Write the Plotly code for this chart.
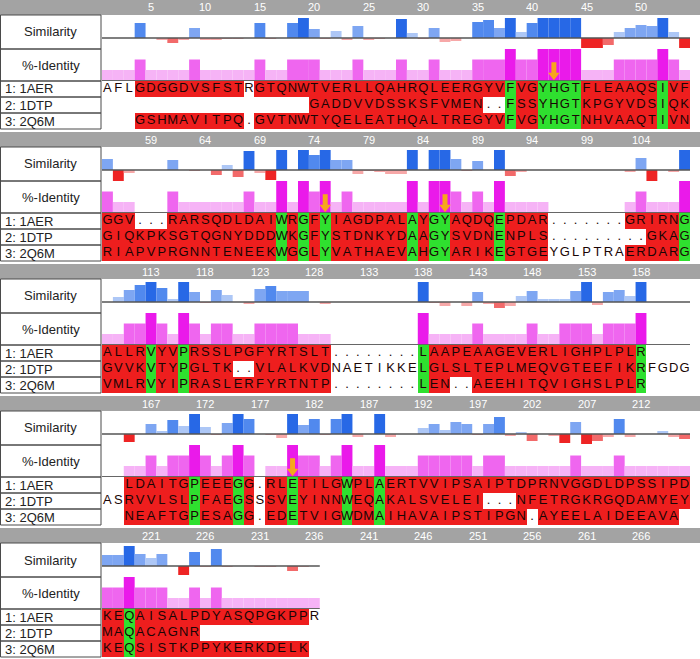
import plotly.graph_objects as go

W, H = 700, 659

# ---------------- data ----------------
block_starts = [1, 55, 109, 163, 217]
seq_names = ["1: 1AER", "2: 1DTP", "3: 2Q6M"]

# aligned sequences per block ('-' = gap, ' ' = nothing)
seq_1AER = [
    "AFLGDGGDVSFSTRGTQNWTVERLLQAHRQLEERGYVFVGYHGTFLEAAQSIVF",
    "GGV---RARSQDLDAIWRGFYIAGDPALAYGYAQDQEPDAR-------GRIRNG",
    "ALLRVYVPRSSLPGFYRTSLT--------LAAPEAAGEVERLIGHPLPLR    ",
    "  LDAITGPEEEGG-RLETILGWPLAERTVVIPSAIPTDPRNVGGDLDPSSIPD",
    "KEQAISALPDYASQPGKPPR",
]
seq_1DTP = [
    "                   GADDVVDSSKSFVMEN--FSSYHGTKPGYVDSIQK",
    "GIQKPKSGTQGNYDDDWKGFYSTDNKYDAAGYSVDNENPLS---------GKAG",
    "GVVKVTYPGLTK--VLALKVDNAETIKKELGLSLTEPLMEQVGTEEFIKRFGDG",
    "ASRVVLSLPFAEGSSSVEYINNWEQAKALSVELEI---NFETRGKRGQDAMYEY",
    "MAQACAGNR",
]
seq_2Q6M = [
    "   GSHMAVITPQ-GVTNWTYQELEATHQALTREGYVFVGYHGTNHVAAQTIVN",
    "RIAPVPRGNNTENEEKWGGLYVATHAEVAHGYARIKEGTGEYGLPTRAERDARG",
    "VMLRVYIPRASLERFYRTNTP--------LEN--AEEHITQVIGHSLPLR    ",
    "  NEAFTGPESAGG-EDETVIGWDMAIHAVAIPSTIPGN-AYEELAIDEEAVA ",
    "KEQSISTKPPYKERKDELK",
]

# residue shading: r = red (aligned), g = green (conserved), w = no shading
cls_1AER = [
    "www" "rrrrrrrrrr" "w" "rrrrrrrrr" "rrrrrrrrrrrrrr" "g" "rr" "gggg" "rrrrrrr" "g" "rr",
    "rrr" "www" "rrrrrrrrrr" "grgrg" "rrrrrrr" "grggrrrrg" "rrrr" "wwwwwww" "rrrrr" "g",
    "rrrr" "g" "rr" "g" "rrrrrrrrrrrrr" "wwwwwwww" "g" "rrrrrrrrrrrrrrrrrrr" "g" "wwww",
    "ww" "rrrrrr" "g" "rrr" "g" "r" "w" "rr" "g" "rrrr" "g" "rr" "g" "rrrrrrrrrrrrrrrrrrrrrrrrrrrr",
    "rr" "g" "rrrrrrrrrrrrrrrr" "w",
]
cls_1DTP = [
    "wwwwwwwwwwwwwwwwwww" "rrrrrrrrrrrrrrrr" "ww" "g" "rr" "gggg" "rrrrrrr" "g" "rr",
    "rrrrrrrrrrrrrrrr" "grgrg" "rrrrrrr" "grgg" "rrrr" "g" "rrrr" "wwwwwwwww" "rrr" "g",
    "rrrr" "g" "rr" "g" "rrrr" "ww" "rrrrrrr" "wwwwwwww" "g" "rrrrrrrrrrrrrrrrrrr" "g" "wwww",
    "ww" "rrrrrr" "g" "rrr" "g" "r" "w" "rr" "g" "rrrr" "g" "rr" "g" "rrrrrrrrr" "www" "rrrrrrrrrrrrrrrr",
    "rr" "g" "rrrrrr",
]
cls_2Q6M = [
    "www" "rrrrrrrrrr" "w" "rrrrrrrrr" "rrrrrrrrrrrrrr" "g" "rr" "gggg" "rrrrrrr" "g" "rr",
    "rrrrrrrrrrrrrrrr" "grgrg" "rrrrrrr" "grgg" "rrrr" "g" "rrrr" "wwwwwww" "rrrrr" "g",
    "rrrr" "g" "rr" "g" "rrrrrrrrrrrrr" "wwwwwwww" "g" "rr" "ww" "rrrrrrrrrrrrrrr" "g" "wwww",
    "ww" "rrrrrr" "g" "rrr" "g" "r" "w" "rr" "g" "rrrr" "g" "rr" "g" "rrrrrrrrrrrrr" "w" "rrrrrrrrrrrrr" "w",
    "rr" "g" "rrrrrrrrrrrrrrrr",
]

tick_labels = [
    [5, 10, 15, 20, 25, 30, 35, 40, 45, 50],
    [59, 64, 69, 74, 79, 84, 89, 94, 99, 104],
    [113, 118, 123, 128, 133, 138, 143, 148, 153, 158],
    [167, 172, 177, 182, 187, 192, 197, 202, 207, 212],
    [221, 226, 231, 236, 241, 246, 251, 256, 261, 266],
]

# similarity score per column (positive = blue up, negative = red down)
similarity = [
    [0, 0, 0, 15, 0, -2, -5, -2, 10, -2, -2, -1, -1, 0, 15, -1, 0, 15, 20, 9,
     -1, 7, -2, 12, -2, -1, 0, 19, 5, -1, 10, -4, -3, 0, 16, 18, 10, 20, 6, 15,
     20, 20, 20, 20, -10, -10, -7, 6, 10, 13, 12, 20, 6, -10],
    [11, -11, -3, 0, 0, 0, 10, 0, -1, 0, -5, 5, -7, 19, -3, -10, 20, 0, 20, 15,
     20, 10, 10, -4, -1, -2, -4, -4, 20, 0, 20, 20, 11, -1, 9, 0, 20, -6, -2, 0,
     0, 0, 0, 0, 0, 0, 0, 0, -2, 12, -11, 0, -2, 20],
    [0, 5, 12, 17, 20, 14, 3, 20, 10, -1, 12, 7, 0, -2, 13, 16, 11, 11, 11, 0,
     -2, 0, 0, 0, 0, 0, 0, 0, 0, 20, -1, -4, 0, -4, 10, -2, -6, -4, 6, 11,
     3, 3, 3, 11, 20, -3, 10, 12, 6, 20, 0, 0, 0, 0],
    [0, 0, -8, 0, 10, 3, 14, 8, 20, 7, -1, 11, 20, 15, 0, -1, -4, 20, 9, 15,
     -1, 15, 20, -3, 0, 20, -3, 0, 0, 6, 10, 4, 12, 10, -1, 10, 17, -2, 2, -7,
     0, -2, -9, 12, -10, -7, -3, 15, -3, 0, 0, 3, -3, -5],
    [11, 11, 20, 12, 8, 12, 0, -9, 14, -1, 17, -1, 0, 0, -1, -1, 0, -5, -1, 0],
]

# %-identity: number of sequences (of 3) identical to 1AER at each column
identity_count = [
    [1, 1, 1, 2, 1, 1, 1, 1, 2, 1, 1, 1, 1, 1, 2, 1, 1, 2, 2, 2,
     1, 1, 1, 2, 1, 1, 1, 2, 1, 1, 2, 1, 1, 1, 2, 2, 2, 3, 2, 2,
     3, 3, 3, 3, 1, 1, 1, 2, 2, 2, 2, 3, 2, 1],
    [2, 1, 1, 0, 0, 0, 2, 1, 1, 1, 1, 1, 1, 2, 1, 1, 3, 1, 3, 2,
     3, 1, 2, 1, 1, 1, 1, 1, 3, 1, 3, 3, 2, 1, 2, 1, 3, 1, 1, 1,
     1, 0, 0, 0, 0, 0, 0, 0, 1, 2, 1, 1, 1, 3],
    [1, 1, 2, 2, 3, 2, 1, 3, 2, 1, 2, 2, 1, 1, 2, 2, 2, 2, 1, 1,
     1, 0, 0, 0, 0, 0, 0, 0, 0, 3, 1, 1, 1, 1, 2, 1, 1, 1, 1, 2,
     1, 1, 2, 2, 2, 1, 2, 2, 2, 3, 0, 0, 0, 0],
    [0, 0, 1, 1, 2, 1, 2, 2, 3, 2, 1, 2, 3, 2, 0, 1, 1, 3, 2, 2,
     1, 2, 3, 1, 1, 3, 1, 1, 1, 2, 2, 2, 2, 2, 1, 2, 2, 1, 1, 1,
     1, 1, 1, 2, 1, 1, 1, 2, 1, 1, 1, 1, 1, 1],
    [2, 2, 3, 2, 2, 2, 1, 1, 2, 1, 2, 1, 1, 1, 1, 1, 1, 1, 1, 1],
]

arrow_cols = [42, 75, 86, 180]

# ---------------- styling ----------------
FONT = "Liberation Sans, Arial, sans-serif"
RED, GREEN = "#ee1e1e", "#2fe02f"
GREY_BAR = "#a3a3a3"
BORDER = "#4a4a4a"
ARROW = "#f7a61c"
IDENT_COLORS = {1: "#f6b3f6", 2: "#ef66ef", 3: "#ea1aea"}


def sim_color(v):
    if v >= 19:
        return "#2768e6"
    if v >= 14:
        return "#5189ee"
    if v >= 9:
        return "#7ea6f2"
    if v > 0:
        return "#adc7f6"
    if v <= -8:
        return "#ee2424"
    if v <= -5:
        return "#f26a6a"
    return "#f7a8a8"


BLOCK_STEP = 132
ROW_GREY = (0, 15)
ROW_SIM = (15, 49)
ROW_IDENT = (49, 81)
ROW_SEQ = (81, 129)
SEQ_ROW_H = 16
LABEL_W = 101
SEQ_X0, SEQ_X1 = 102, 690
NCOL = 54


def fy(px):
    return 1 - px / H


def fx(px):
    return px / W


def suffix(n):
    return "" if n == 1 else str(n)


fig = go.Figure()
layout = dict(
    width=W, height=H, margin=dict(l=0, r=0, t=0, b=0),
    paper_bgcolor="white", plot_bgcolor="rgba(0,0,0,0)", showlegend=False,
)
shapes, annotations = [], []

all_seqs = [seq_1AER, seq_1DTP, seq_2Q6M]
all_cls = [cls_1AER, cls_1DTP, cls_2Q6M]

for k, start in enumerate(block_starts):
    top = k * BLOCK_STEP
    xr = [start - 0.5, start + NCOL - 0.5]
    n_sim, n_id, n_seq = 3 * k + 1, 3 * k + 2, 3 * k + 3
    rows = [(n_sim, ROW_SIM, [-11, 23]), (n_id, ROW_IDENT, [-1.6, 100]),
            (n_seq, ROW_SEQ, [2.5, -0.5])]
    for n, (r0, r1), yr in rows:
        layout["xaxis" + suffix(n)] = dict(
            domain=[fx(SEQ_X0), fx(SEQ_X1)], range=xr, visible=False,
            fixedrange=True, anchor="y" + suffix(n))
        layout["yaxis" + suffix(n)] = dict(
            domain=[fy(top + r1), fy(top + r0)], range=yr, visible=False,
            fixedrange=True, anchor="x" + suffix(n))

    sims = similarity[k]
    ncols_used = len(sims)
    cols = list(range(start, start + ncols_used))
    last = start + ncols_used - 1

    # similarity bars
    fig.add_trace(go.Bar(
        x=cols, y=sims, width=1, marker=dict(color=[sim_color(v) for v in sims], line=dict(width=0)),
        xaxis="x" + suffix(n_sim), yaxis="y" + suffix(n_sim), hoverinfo="skip"))
    fig.add_trace(go.Scatter(
        x=[start - 0.5, last + 0.5], y=[0, 0], mode="lines",
        line=dict(color="#555555", width=1.3),
        xaxis="x" + suffix(n_sim), yaxis="y" + suffix(n_sim), hoverinfo="skip"))

    # identity bars
    ids = identity_count[k]
    fig.add_trace(go.Bar(
        x=cols, y=[c / 3 * 100 for c in ids], width=1,
        marker=dict(color=[IDENT_COLORS.get(c, "white") for c in ids], line=dict(width=0)),
        xaxis="x" + suffix(n_id), yaxis="y" + suffix(n_id), hoverinfo="skip"))
    fig.add_trace(go.Scatter(
        x=[start - 0.5, last + 0.5], y=[0, 0], mode="lines",
        line=dict(color="#666666", width=1),
        xaxis="x" + suffix(n_id), yaxis="y" + suffix(n_id), hoverinfo="skip"))

    # sequences: cell colours + letters
    z, tx, ty, tt = [], [], [], []
    hx = list(range(start, start + NCOL))
    for r in range(3):
        s = all_seqs[r][k]
        c = all_cls[r][k]
        assert len(s) == len(c), (r, k, len(s), len(c))
        zrow = []
        for j in range(NCOL):
            if j < len(s):
                ch, cl = s[j], c[j]
                zrow.append(1 if cl == "r" else (2 if cl == "g" else None))
                if ch != " ":
                    tx.append(start + j)
                    ty.append(r)
                    tt.append("." if ch == "-" else ch)
            else:
                zrow.append(None)
        z.append(zrow)
    fig.add_trace(go.Heatmap(
        x=hx, y=[0, 1, 2], z=z, zmin=1, zmax=2, showscale=False,
        colorscale=[[0, RED], [0.5, RED], [0.5, GREEN], [1, GREEN]],
        xaxis="x" + suffix(n_seq), yaxis="y" + suffix(n_seq), hoverinfo="skip"))
    fig.add_trace(go.Scatter(
        x=tx, y=ty, text=tt, mode="text", textposition="middle center",
        textfont=dict(family=FONT, size=13, color="#1a0505"), cliponaxis=False,
        xaxis="x" + suffix(n_seq), yaxis="y" + suffix(n_seq), hoverinfo="skip"))

    # grey header bar with position ticks
    shapes.append(dict(type="rect", xref="paper", yref="paper", x0=0, x1=1,
                       y0=fy(top + ROW_GREY[1]), y1=fy(top + ROW_GREY[0]),
                       fillcolor=GREY_BAR, line=dict(width=0), layer="below"))
    for t in tick_labels[k]:
        annotations.append(dict(
            x=t, xref="x" + suffix(n_sim), y=fy(top + (ROW_GREY[0] + ROW_GREY[1]) / 2), yref="paper",
            text=str(t), showarrow=False, xanchor="center", yanchor="middle",
            font=dict(family=FONT, size=11, color="white")))

    # label boxes
    boxes = [(ROW_SIM[0], ROW_SIM[1]), (ROW_IDENT[0], ROW_IDENT[1])]
    for r in range(3):
        boxes.append((ROW_SEQ[0] + r * SEQ_ROW_H, ROW_SEQ[0] + (r + 1) * SEQ_ROW_H))
    for (b0, b1) in boxes:
        shapes.append(dict(type="rect", xref="paper", yref="paper", x0=fx(0.5), x1=fx(LABEL_W),
                           y0=fy(top + b1), y1=fy(top + b0),
                           line=dict(color=BORDER, width=1), fillcolor="rgba(0,0,0,0)"))
    annotations.append(dict(x=fx(LABEL_W / 2), y=fy(top + sum(ROW_SIM) / 2), xref="paper", yref="paper",
                            text="Similarity", showarrow=False, xanchor="center", yanchor="middle",
                            font=dict(family=FONT, size=13, color="#222222")))
    annotations.append(dict(x=fx(LABEL_W / 2), y=fy(top + sum(ROW_IDENT) / 2), xref="paper", yref="paper",
                            text="%-Identity", showarrow=False, xanchor="center", yanchor="middle",
                            font=dict(family=FONT, size=13, color="#222222")))
    for r, nm in enumerate(seq_names):
        annotations.append(dict(x=fx(3), y=fy(top + ROW_SEQ[0] + (r + 0.5) * SEQ_ROW_H), xref="paper", yref="paper",
                                text=nm, showarrow=False, xanchor="left", yanchor="middle",
                                font=dict(family=FONT, size=13, color="#222222")))

    # arrows marking key residues
    for col in arrow_cols:
        if start <= col < start + NCOL:
            fig.add_trace(go.Scatter(
                x=[col, col], y=[58, 23], mode="lines", line=dict(color=ARROW, width=5),
                xaxis="x" + suffix(n_id), yaxis="y" + suffix(n_id), hoverinfo="skip"))
            fig.add_trace(go.Scatter(
                x=[col], y=[17], mode="markers",
                marker=dict(symbol="triangle-down", size=10, color=ARROW, line=dict(width=0)),
                xaxis="x" + suffix(n_id), yaxis="y" + suffix(n_id), hoverinfo="skip"))

layout["shapes"] = shapes
layout["annotations"] = annotations
layout["barmode"] = "overlay"
fig.update_layout(**layout)
fig.write_html("out.html", config={"displayModeBar": False},
               post_script="document.body.style.margin='0';document.body.style.overflow='hidden';")
